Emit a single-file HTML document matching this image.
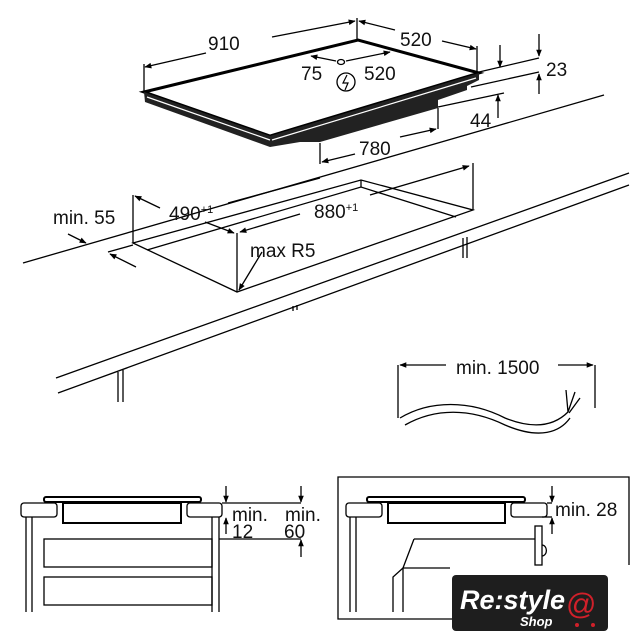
<!DOCTYPE html>
<html><head><meta charset="utf-8"><style>
html,body{margin:0;padding:0;background:#fff}
svg{display:block}
text{font-family:"Liberation Sans",sans-serif;fill:#111}
</style></head><body>
<svg width="643" height="640" viewBox="0 0 643 640" xmlns="http://www.w3.org/2000/svg">
<defs>
<marker id="a" viewBox="0 0 10 10" refX="9" refY="5" markerWidth="9" markerHeight="7" orient="auto-start-reverse" markerUnits="userSpaceOnUse"><path d="M0,1 L10,5 L0,9 z" fill="#000"/></marker>
</defs>
<g stroke="#000" stroke-width="1.3" fill="none">
<!-- hob -->
<polygon points="144,92 358,40 479,73 270,136" fill="#fff" stroke-width="3"/>
<polygon points="144,92 270,136 270,147 145,102" fill="#222" stroke="none"/>
<polygon points="270,136 479,73 479,80 467,86 467,90 438,100 438,108 320,142 300,142 270,147" fill="#222" stroke="none"/>
<line x1="147" y1="97" x2="270" y2="140" stroke="#fff" stroke-width="1.2"/>
<line x1="272" y1="140" x2="476" y2="78" stroke="#fff" stroke-width="1.2"/>
<!-- 910 / 520 -->
<line x1="144" y1="92" x2="144" y2="64"/>
<line x1="357" y1="40" x2="357" y2="18"/>
<line x1="477" y1="73" x2="477" y2="46"/>
<line x1="206" y1="53" x2="145" y2="67" marker-end="url(#a)"/>
<line x1="272" y1="37" x2="355" y2="21" marker-end="url(#a)"/>
<line x1="395" y1="30" x2="359" y2="21" marker-end="url(#a)"/>
<line x1="442" y1="41" x2="476" y2="49" marker-end="url(#a)"/>
<!-- 75 / 520 -->
<line x1="336" y1="61" x2="311" y2="56" marker-end="url(#a)"/>
<line x1="346" y1="61" x2="390" y2="52" marker-end="url(#a)"/>
<ellipse cx="341" cy="62" rx="3.5" ry="2.5"/>
<circle cx="346" cy="82" r="9"/>
<path d="M347,75 L343,83 L348,83 L345,90" stroke-width="1.2"/>
<!-- 23 / 44 -->
<line x1="479" y1="72" x2="539" y2="58"/>
<line x1="471" y1="87" x2="539" y2="72"/>
<line x1="438" y1="107" x2="504" y2="93"/>
<line x1="500" y1="45" x2="500" y2="67" marker-end="url(#a)"/>
<line x1="539" y1="34" x2="539" y2="56" marker-end="url(#a)"/>
<line x1="539" y1="94" x2="539" y2="74" marker-end="url(#a)"/>
<line x1="498" y1="118" x2="498" y2="95" marker-end="url(#a)"/>
<!-- 780 -->
<line x1="320" y1="143" x2="320" y2="164"/>
<line x1="438" y1="108" x2="438" y2="129"/>
<line x1="355" y1="154" x2="322" y2="162" marker-end="url(#a)"/>
<line x1="400" y1="137" x2="436" y2="129" marker-end="url(#a)"/>
<!-- counter back line -->
<line x1="23" y1="263" x2="604" y2="95"/>
<!-- cutout -->
<polygon points="133,243 361,180 473,210 237,292"/>
<polyline points="147,250 361,187 456,217"/>
<line x1="361" y1="180" x2="361" y2="187"/>
<line x1="237" y1="233" x2="237" y2="292"/>
<line x1="133" y1="195" x2="133" y2="243"/>
<line x1="473" y1="163" x2="473" y2="210"/>
<line x1="108" y1="252" x2="133" y2="245"/>
<!-- 490 / 880 -->
<line x1="160" y1="208" x2="135" y2="196" marker-end="url(#a)"/>
<line x1="205" y1="222" x2="234" y2="233" marker-end="url(#a)"/>
<line x1="228" y1="203" x2="320" y2="178"/>
<line x1="300" y1="214" x2="240" y2="232" marker-end="url(#a)"/>
<line x1="370" y1="195" x2="469" y2="166" marker-end="url(#a)"/>
<line x1="262" y1="252" x2="239" y2="290" marker-end="url(#a)"/>
<!-- min 55 -->
<line x1="68" y1="234" x2="86" y2="243" marker-end="url(#a)"/>
<line x1="136" y1="267" x2="110" y2="254" marker-end="url(#a)"/>
<!-- front counter -->
<line x1="56" y1="378" x2="629" y2="173"/>
<line x1="58" y1="393" x2="629" y2="185"/>
<line x1="118" y1="372" x2="118" y2="402"/>
<line x1="123" y1="370" x2="123" y2="402"/>
<line x1="463" y1="238" x2="463" y2="258"/>
<line x1="467" y1="237" x2="467" y2="258"/>
<line x1="293" y1="306" x2="293" y2="311"/>
<line x1="297" y1="305" x2="297" y2="310"/>
<!-- cable -->
<line x1="398" y1="365" x2="398" y2="418"/>
<line x1="595" y1="365" x2="595" y2="408"/>
<line x1="446" y1="365" x2="400" y2="365" marker-end="url(#a)"/>
<line x1="558" y1="365" x2="593" y2="365" marker-end="url(#a)"/>
<path d="M400,418 C430,400 470,400 505,418 C535,430 555,425 568,412"/>
<path d="M405,425 C435,408 470,408 505,425 C540,440 560,432 570,418"/>
<path d="M568,412 L566,390 M568,412 L575,392 M569,413 L580,398"/>
<!-- left section -->
<rect x="44" y="497" width="157" height="5" rx="2" stroke-width="2"/>
<rect x="21" y="503" width="36" height="14" rx="3"/>
<rect x="187" y="503" width="35" height="14" rx="3"/>
<rect x="63" y="503" width="118" height="20" stroke-width="2"/>
<line x1="26" y1="517" x2="26" y2="612"/><line x1="32" y1="517" x2="32" y2="612"/>
<line x1="212" y1="517" x2="212" y2="612"/><line x1="219" y1="517" x2="219" y2="612"/>
<rect x="44" y="539" width="168" height="28"/>
<rect x="44" y="577" width="168" height="28"/>
<line x1="222" y1="503" x2="301" y2="503"/>
<line x1="219" y1="539" x2="301" y2="539"/>
<line x1="226" y1="486" x2="226" y2="502" marker-end="url(#a)"/>
<line x1="226" y1="534" x2="226" y2="518" marker-end="url(#a)"/>
<line x1="301" y1="486" x2="301" y2="502" marker-end="url(#a)"/>
<line x1="301" y1="557" x2="301" y2="540" marker-end="url(#a)"/>
<!-- right section -->
<polyline points="629,565 629,477 338,477 338,619 452,619"/>
<rect x="367" y="497" width="158" height="5" rx="2" stroke-width="2"/>
<rect x="346" y="503" width="36" height="14" rx="3"/>
<rect x="511" y="503" width="36" height="14" rx="3"/>
<rect x="388" y="503" width="117" height="20" stroke-width="2"/>
<line x1="350" y1="517" x2="350" y2="612"/><line x1="356" y1="517" x2="356" y2="612"/>
<rect x="535" y="526" width="7" height="39"/>
<path d="M542,545 A4,5 0 0 1 542,556"/>
<line x1="414" y1="539" x2="535" y2="539"/>
<polyline points="414,539 403,568 450,568"/>
<polyline points="403,568 393,577 393,612"/>
<line x1="403" y1="568" x2="403" y2="612"/>
<line x1="547" y1="503" x2="552" y2="503"/>
<line x1="542" y1="517" x2="552" y2="517"/>
<line x1="552" y1="486" x2="552" y2="502" marker-end="url(#a)"/>
<line x1="552" y1="534" x2="552" y2="518" marker-end="url(#a)"/>
</g>
<g font-size="19">
<text x="208" y="50">910</text>
<text x="400" y="46">520</text>
<text x="301" y="80">75</text>
<text x="364" y="80">520</text>
<text x="546" y="76">23</text>
<text x="470" y="127">44</text>
<text x="359" y="155">780</text>
<text x="53" y="224">min. 55</text>
<text x="169" y="220">490<tspan font-size="11" dy="-7">+1</tspan></text>
<text x="314" y="218">880<tspan font-size="11" dy="-7">+1</tspan></text>
<text x="250" y="257">max R5</text>
<text x="456" y="374">min. 1500</text>
<text x="232" y="521">min.</text>
<text x="232" y="538">12</text>
<text x="285" y="521">min.</text>
<text x="284" y="538">60</text>
<text x="555" y="516">min. 28</text>
</g>
<rect x="452" y="575" width="156" height="56" rx="4" fill="#1e1e1e"/>
<text x="460" y="609" font-size="27" font-style="italic" font-weight="bold" style="fill:#fff">Re:style</text>
<text x="520" y="626" font-size="13" font-style="italic" font-weight="bold" style="fill:#fff">Shop</text>
<text x="566" y="614" font-size="30" style="fill:#d0202a">@</text>
<circle cx="577" cy="625" r="2" fill="#d0202a"/><circle cx="593" cy="625" r="2" fill="#d0202a"/>
</svg>
</body></html>
